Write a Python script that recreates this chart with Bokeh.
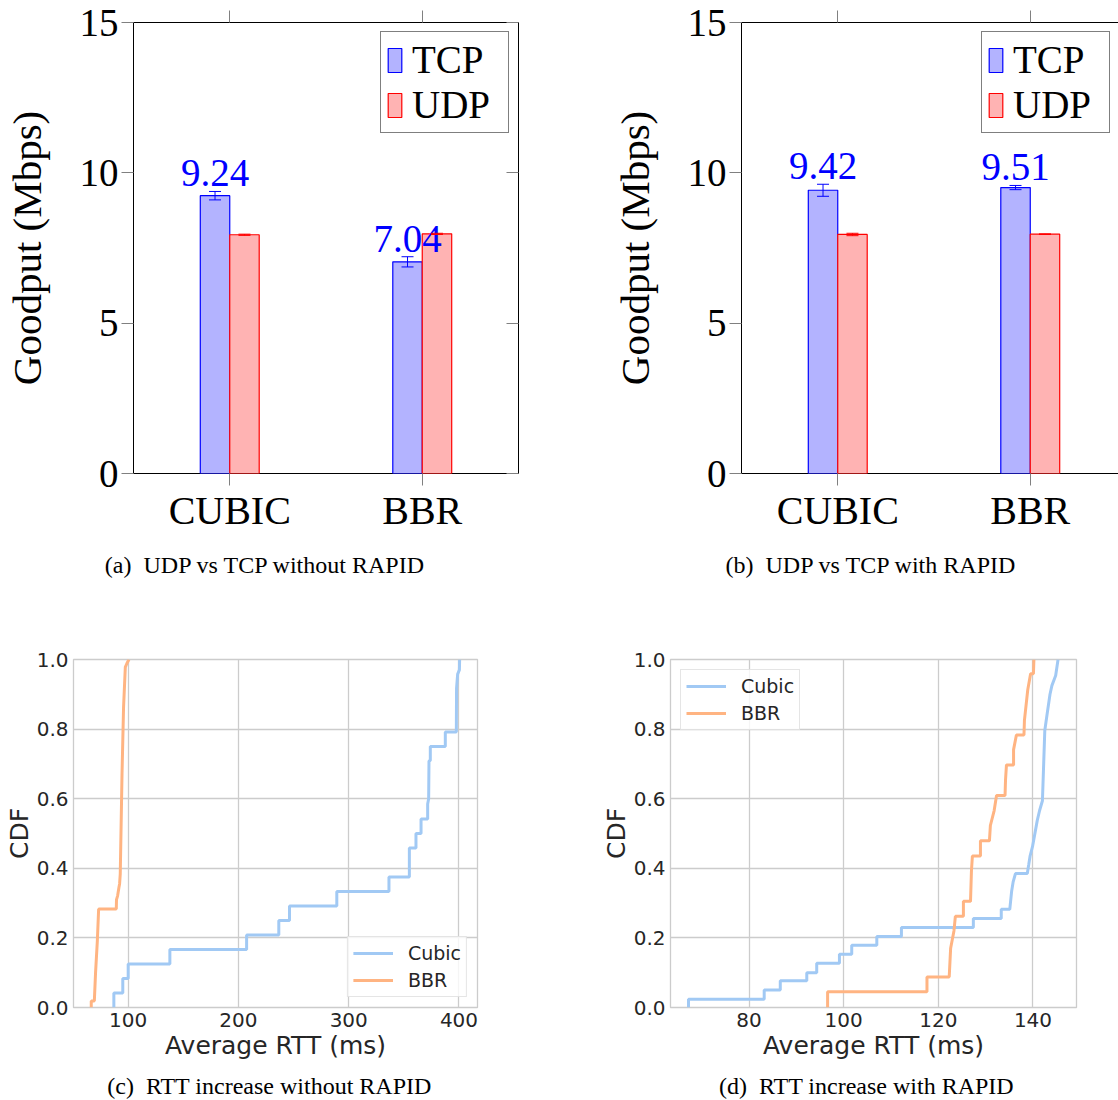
from bokeh.plotting import figure
from bokeh.layouts import column, row
from bokeh.models import (ColumnDataSource, Whisker, TeeHead, FixedTicker, LinearAxis,
                          Legend, LegendItem, Range1d, PrintfTickFormatter)
from bokeh.core.properties import value
from bokeh.embed import file_html
from bokeh.resources import INLINE

# ---------------- data ----------------
categories = ["CUBIC", "BBR"]
goodput_ticks = [0, 5, 10, 15]

tcp_no_rapid = [9.24, 7.04]
tcp_no_rapid_err = [0.14, 0.17]
udp_no_rapid = [7.94, 7.97]
udp_no_rapid_err = [0.02, 0.02]

tcp_rapid = [9.42, 9.51]
tcp_rapid_err = [0.20, 0.07]
udp_rapid = [7.95, 7.96]
udp_rapid_err = [0.04, 0.01]

cdf_ticks = [0.0, 0.2, 0.4, 0.6, 0.8, 1.0]
rtt_ticks_no_rapid = [100, 200, 300, 400]
rtt_ticks_rapid = [80, 100, 120, 140]

# CDF curves (vertices of the plotted lines)
cubic_no_rapid_rtt = [87, 87, 95.1, 95.1, 100, 100, 137.8, 137.8, 207.4, 207.4, 236.6, 236.6,
                      246.3, 246.3, 289.2, 289.2, 336.5, 336.5, 355, 355, 361, 361, 365.6, 365.6,
                      371.6, 371.6, 372.5, 372.8, 374, 374, 387.6, 387.6, 397.6, 397.8, 398.8,
                      400.4, 400.6]
cubic_no_rapid_cdf = [0, 0.042, 0.042, 0.083, 0.083, 0.125, 0.125, 0.167, 0.167, 0.208, 0.208, 0.25,
                      0.25, 0.292, 0.292, 0.333, 0.333, 0.375, 0.375, 0.458, 0.458, 0.5, 0.5, 0.542,
                      0.542, 0.585, 0.6, 0.708, 0.71, 0.75, 0.75, 0.792, 0.792, 0.917, 0.958,
                      0.97, 1.0]
bbr_no_rapid_rtt = [66.5, 66.5, 69.3, 70.4, 72.0, 73.2, 89.2, 89.4, 90.4, 91.6, 92.2, 92.8, 94.4,
                    95.8, 97.4, 99.0, 100.7]
bbr_no_rapid_cdf = [0, 0.019, 0.019, 0.1, 0.19, 0.283, 0.283, 0.31, 0.321, 0.345, 0.355, 0.383,
                    0.67, 0.863, 0.978, 0.99, 1.0]

cubic_rapid_rtt = [67.2, 67.2, 83.2, 83.2, 86.6, 86.6, 92.2, 92.2, 94.3, 94.3, 99.1, 99.1, 101.7,
                   101.7, 107.0, 107.0, 112.2, 112.2, 127.4, 127.4, 133.3, 133.3, 135.1, 135.5,
                   135.8, 136.3, 138.8, 139.1, 139.4, 139.9, 140.9, 141.4, 142.0, 142.5, 143.0,
                   143.6, 144.0, 144.8, 145.3]
cubic_rapid_cdf = [0, 0.024, 0.024, 0.05, 0.05, 0.077, 0.077, 0.1, 0.1, 0.127, 0.127, 0.153, 0.153,
                   0.179, 0.179, 0.204, 0.204, 0.23, 0.23, 0.256, 0.256, 0.282, 0.282, 0.335,
                   0.36, 0.385, 0.385, 0.41, 0.436, 0.462, 0.537, 0.566, 0.594, 0.796, 0.844,
                   0.9, 0.925, 0.954, 1.0]
bbr_rapid_rtt = [96.6, 96.6, 117.6, 117.6, 122.3, 122.6, 123.3, 123.6, 125.3, 125.3, 126.8, 127.0,
                 127.2, 128.9, 128.9, 130.8, 131.0, 131.8, 132.3, 134.1, 134.2, 134.4, 135.9,
                 135.9, 136.5, 138.1, 138.2, 138.9, 139.5, 140.1, 140.2]
bbr_rapid_cdf = [0, 0.045, 0.045, 0.088, 0.088, 0.17, 0.22, 0.262, 0.262, 0.305, 0.305, 0.393,
                 0.435, 0.435, 0.479, 0.479, 0.523, 0.566, 0.609, 0.609, 0.654, 0.697, 0.697,
                 0.741, 0.783, 0.783, 0.826, 0.913, 0.959, 0.959, 1.0]

captions = ["(a)\u00a0 UDP vs TCP without RAPID", "(b)\u00a0 UDP vs TCP with RAPID",
            "(c)\u00a0 RTT increase without RAPID", "(d)\u00a0 RTT increase with RAPID"]

# ---------------- style ----------------
SERIF = "Liberation Serif"
SANS = "DejaVu Sans"
BAR_W = 0.153
TCP_FILL, TCP_LINE = "#b3b3ff", "#0000ff"
UDP_FILL, UDP_LINE = "#ffb3b3", "#ff0000"
TICK_GRAY = "#808080"
CUBIC_COLOR = "#a1c9f4"
BBR_COLOR = "#ffb482"
GRID = "#cccccc"
DARK = "#262626"
LABEL_GAP = 0.2   # gap (in Mbps units) between error bar top and value label


def caption_fig(text, width, height, cx, cy):
    p = figure(width=width, height=height, x_range=Range1d(0, width), y_range=Range1d(height, 0),
               x_axis_type=None, y_axis_type=None, output_backend="svg", toolbar_location=None,
               min_border=0)
    p.outline_line_color = None
    p.background_fill_color = "white"
    p.border_fill_color = "white"
    p.text(x=[cx], y=[cy], text=[text], text_align="center", text_baseline="middle",
           text_font=value(SERIF), text_font_size="24px", text_color="black")
    return p


def bar_panel(tcp, tcp_err, udp, udp_err, frame_w, x_end, b_left, b_right, right_axis):
    xs = list(range(len(categories)))
    p = figure(frame_width=frame_w, frame_height=451,
               x_range=Range1d(-0.5, x_end), y_range=Range1d(0, 15),
               output_backend="svg", toolbar_location=None,
               min_border_left=b_left, min_border_right=b_right,
               min_border_top=22, min_border_bottom=70)
    p.outline_line_color = "black"
    p.outline_line_width = 1
    p.xgrid.visible = False
    p.ygrid.visible = False
    p.background_fill_color = "white"
    p.border_fill_color = "white"

    src_t = ColumnDataSource(dict(
        x=[i - BAR_W / 2 for i in xs], top=tcp,
        upper=[v + e for v, e in zip(tcp, tcp_err)],
        lower=[v - e for v, e in zip(tcp, tcp_err)],
        label_y=[v + e + LABEL_GAP for v, e in zip(tcp, tcp_err)],
        label=[f"{v:.2f}" for v in tcp]))
    src_u = ColumnDataSource(dict(
        x=[i + BAR_W / 2 for i in xs], top=udp,
        upper=[v + e for v, e in zip(udp, udp_err)],
        lower=[v - e for v, e in zip(udp, udp_err)]))

    r_t = p.vbar(x="x", top="top", width=BAR_W, source=src_t,
                 fill_color=TCP_FILL, line_color=TCP_LINE, line_width=1.2)
    r_u = p.vbar(x="x", top="top", width=BAR_W, source=src_u,
                 fill_color=UDP_FILL, line_color=UDP_LINE, line_width=1.2)

    for src, col in ((src_t, TCP_LINE), (src_u, UDP_LINE)):
        w = Whisker(base="x", upper="upper", lower="lower", source=src,
                    line_color=col, line_width=1, level="overlay",
                    upper_head=TeeHead(size=12, line_color=col, line_width=1),
                    lower_head=TeeHead(size=12, line_color=col, line_width=1))
        p.add_layout(w)

    p.text(x="x", y="label_y", text="label", source=src_t, text_color=TCP_LINE,
           text_font=value(SERIF), text_font_size="39px", text_align="center",
           text_baseline="alphabetic", y_offset=-12)

    leg = Legend(items=[LegendItem(label="TCP", renderers=[r_t]),
                        LegendItem(label="UDP", renderers=[r_u])],
                 location="top_right", margin=9, padding=5, spacing=-8,
                 glyph_width=17, glyph_height=30, label_standoff=9, label_width=91,
                 label_text_font=SERIF, label_text_font_size="39px",
                 label_text_color="black",
                 border_line_color="black", border_line_width=1,
                 background_fill_color="white", background_fill_alpha=1)
    p.add_layout(leg)

    xa = p.xaxis[0]
    xa.ticker = FixedTicker(ticks=xs)
    xa.major_label_overrides = {i: c for i, c in zip(xs, categories)}
    xa.major_tick_out = 12
    xa.major_tick_in = 0
    xa.major_tick_line_color = TICK_GRAY
    xa.minor_tick_line_color = None
    xa.axis_line_color = None
    xa.major_label_text_font = SERIF
    xa.major_label_text_font_size = "40px"
    xa.major_label_text_color = "black"
    xa.major_label_standoff = 2

    ya = p.yaxis[0]
    ya.ticker = FixedTicker(ticks=goodput_ticks)
    ya.major_tick_out = 12
    ya.major_tick_in = 0
    ya.major_tick_line_color = TICK_GRAY
    ya.minor_tick_line_color = None
    ya.axis_line_color = None
    ya.major_label_text_font = SERIF
    ya.major_label_text_font_size = "39px"
    ya.major_label_text_color = "black"
    ya.major_label_standoff = 3
    ya.axis_label = "Goodput (Mbps)"
    ya.axis_label_text_font = SERIF
    ya.axis_label_text_font_size = "41px"
    ya.axis_label_text_font_style = "normal"
    ya.axis_label_text_color = "black"
    ya.axis_label_standoff = 27

    top = LinearAxis(ticker=FixedTicker(ticks=xs), major_tick_out=12, major_tick_in=0,
                     major_tick_line_color=TICK_GRAY, minor_tick_line_color=None,
                     axis_line_color=None, major_label_text_font_size="1px",
                     major_label_text_color=None, major_label_standoff=0)
    p.add_layout(top, "above")
    if right_axis:
        ra = LinearAxis(ticker=FixedTicker(ticks=goodput_ticks), major_tick_out=0,
                        major_tick_in=12, major_tick_line_color=TICK_GRAY,
                        minor_tick_line_color=None, axis_line_color=None,
                        major_label_text_font_size="1px", major_label_text_color=None,
                        major_label_standoff=0)
        p.add_layout(ra, "right")
    return p


def cdf_panel(cubic_x, cubic_y, bbr_x, bbr_y, x_rng, x_ticks, leg_loc,
              frame_w, b_left, b_right):
    p = figure(frame_width=frame_w, frame_height=348,
               x_range=Range1d(*x_rng), y_range=Range1d(0, 1),
               output_backend="svg", toolbar_location=None,
               min_border_left=b_left, min_border_right=b_right,
               min_border_top=39, min_border_bottom=62)
    p.outline_line_color = GRID
    p.outline_line_width = 1.3
    p.background_fill_color = "white"
    p.border_fill_color = "white"
    p.xgrid.ticker = FixedTicker(ticks=x_ticks)
    p.ygrid.ticker = FixedTicker(ticks=cdf_ticks)
    for g in (p.xgrid[0], p.ygrid[0]):
        g.grid_line_color = GRID
        g.grid_line_width = 1.3

    r_c = p.line(cubic_x, cubic_y, line_color=CUBIC_COLOR, line_width=3)
    r_b = p.line(bbr_x, bbr_y, line_color=BBR_COLOR, line_width=3)

    leg = Legend(items=[LegendItem(label="Cubic", renderers=[r_c]),
                        LegendItem(label="BBR", renderers=[r_b])],
                 location=leg_loc, margin=10, padding=5, spacing=5,
                 glyph_width=40, glyph_height=22, label_height=22, label_standoff=15,
                 label_text_font=SANS, label_text_font_size="19px", label_text_color=DARK,
                 border_line_color=GRID, border_line_width=1,
                 background_fill_color="white", background_fill_alpha=0.8)
    p.add_layout(leg)

    xa = p.xaxis[0]
    xa.ticker = FixedTicker(ticks=x_ticks)
    ya = p.yaxis[0]
    ya.ticker = FixedTicker(ticks=cdf_ticks)
    ya.formatter = PrintfTickFormatter(format="%.1f")
    for ax in (xa, ya):
        ax.major_tick_out = 0
        ax.major_tick_in = 0
        ax.minor_tick_line_color = None
        ax.major_tick_line_color = None
        ax.axis_line_color = None
        ax.major_label_text_font = SANS
        ax.major_label_text_font_size = "20px"
        ax.major_label_text_color = DARK
        ax.axis_label_text_font = SANS
        ax.axis_label_text_font_size = "25px"
        ax.axis_label_text_font_style = "normal"
        ax.axis_label_text_color = DARK
    xa.major_label_standoff = 5
    ya.major_label_standoff = 5
    xa.axis_label = "Average RTT (ms)"
    ya.axis_label = "CDF"
    xa.axis_label_standoff = 1
    ya.axis_label_standoff = 0
    return p


pa = bar_panel(tcp_no_rapid, tcp_no_rapid_err, udp_no_rapid, udp_no_rapid_err,
               385, 1.5, 133, 90, True)
pb = bar_panel(tcp_rapid, tcp_rapid_err, udp_rapid, udp_rapid_err,
               378, -0.5 + 378 / 192.5, 132, 0, False)
pc = cdf_panel(cubic_no_rapid_rtt, cubic_no_rapid_cdf, bbr_no_rapid_rtt, bbr_no_rapid_cdf,
               (50.4, 416.8), rtt_ticks_no_rapid, "bottom_right", 404, 73, 120)
pd = cdf_panel(cubic_rapid_rtt, cubic_rapid_cdf, bbr_rapid_rtt, bbr_rapid_cdf,
               (63.4, 149.2), rtt_ticks_rapid, "top_left", 406, 73, 42)

cap_a = caption_fig(captions[0], 608, 77, 265, 21)
cap_b = caption_fig(captions[1], 510, 77, 263, 21)
cap_c = caption_fig(captions[2], 597, 31, 269, 16)
cap_d = caption_fig(captions[3], 521, 31, 269, 16)

layout = column(row(pa, pb), row(cap_a, cap_b), row(pc, pd), row(cap_c, cap_d))
open("out.html", "w").write(file_html(layout, INLINE))
